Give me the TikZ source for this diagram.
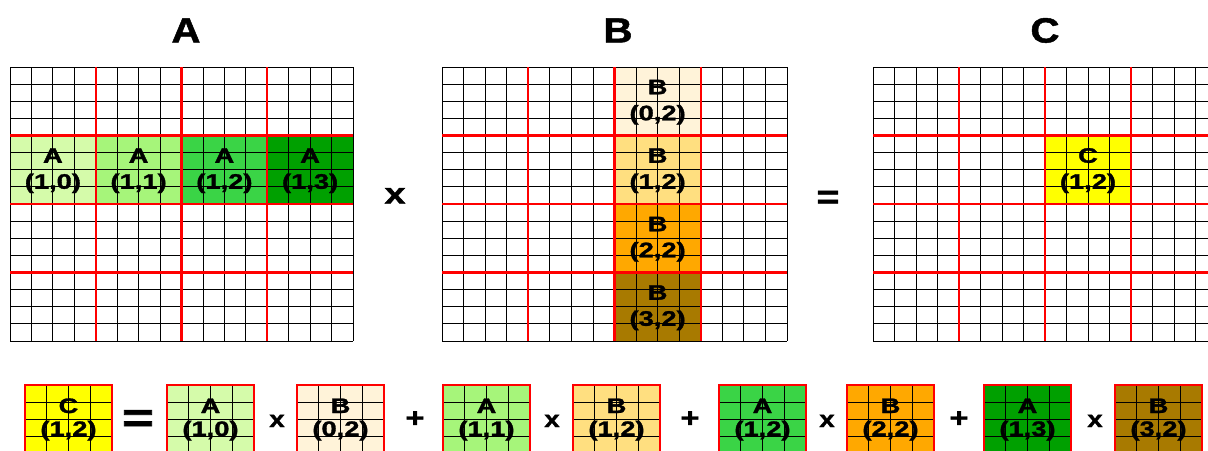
\documentclass[tikz,border=0pt]{standalone}
\usepackage{fontspec}
\usepackage{graphicx}
\setmainfont{Liberation Sans}
\newfontfamily\heavyfont[BoldFeatures={FakeBold=1.3}]{Liberation Sans}
\definecolor{aten}{HTML}{D5FBAA}
\definecolor{aeleven}{HTML}{A6F57A}
\definecolor{atwelve}{HTML}{3AD446}
\definecolor{athirteen}{HTML}{00A000}
\definecolor{bzero}{HTML}{FFF3D9}
\definecolor{bone}{HTML}{FFDF80}
\definecolor{btwo}{HTML}{FFA800}
\definecolor{bthree}{HTML}{A87A00}
\definecolor{cyel}{HTML}{FFFF00}
\newcommand\wtxt[3]{\scalebox{#2}[1]{\heavyfont\bfseries\fontsize{#1}{#1}\selectfont #3}}
\newcommand\bigmatrix[4]{%
  \foreach \k in {0,...,16}{%
    \draw[gridline] ({#1+\k*#3/16},#2) -- ({#1+\k*#3/16},{#2+#4});
    \draw[gridline] (#1,{#2+\k*#4/16}) -- ({#1+#3},{#2+\k*#4/16});
  }%
  \foreach \k in {4,8,12}{%
    \draw[redline] ({#1+\k*#3/16},#2) -- ({#1+\k*#3/16},{#2+#4});
    \draw[redline] (#1,{#2+\k*#4/16}) -- ({#1+#3},{#2+\k*#4/16});
  }%
}
\newcommand\smallbox[3]{%
  \fill[#3] (#1,#2) rectangle ++(87,69);
  \foreach \k in {1,2,3}{%
    \draw[gridline] ({#1+\k*87/4},#2) -- ++(0,69);
    \draw[gridline] (#1,{#2+\k*69/4}) -- ++(87,0);
  }%
  \draw[redline,line width=2.6pt] (#1,#2) rectangle ++(87,69);
}
\begin{document}
\begin{tikzpicture}[x=1pt,y=-1pt,
  gridline/.style={black,line width=0.8pt},
  redline/.style={red,line width=2.2pt},
  lbl/.style={anchor=base,inner sep=0pt},
]
\useasboundingbox (0,0) rectangle (1208,450);
\clip (0,0) rectangle (1208,450);
\fill[white] (0,0) rectangle (1208,450);

% titles
\node[lbl] (tA) at (186,42.5) {\wtxt{35}{1.15}{A}};
\node[lbl] (tB) at (618,42.5) {\wtxt{35}{1.15}{B}};
\node[lbl] (tC) at (1045,42.5) {\wtxt{35}{1.15}{C}};

% matrix A
\fill[aten] (10,135.5) rectangle (95.75,204);
\fill[aeleven] (95.75,135.5) rectangle (181.5,204);
\fill[atwelve] (181.5,135.5) rectangle (267.25,204);
\fill[athirteen] (267.25,135.5) rectangle (353,204);
\bigmatrix{10}{67}{343}{274}
\foreach \cx/\t in {52.9/0,138.6/1,224.4/2,310.1/3}{
  \node[lbl] (ma\t u) at (\cx,162.75) {\wtxt{21}{1.3}{A}};
  \node[lbl] (ma\t l) at (\cx,188.75) {\wtxt{21}{1.3}{(1,\t)}};
}

% matrix B
\fill[bzero] (614.5,67) rectangle (700.75,135.5);
\fill[bone] (614.5,135.5) rectangle (700.75,204);
\fill[btwo] (614.5,204) rectangle (700.75,272.5);
\fill[bthree] (614.5,272.5) rectangle (700.75,341);
\bigmatrix{442}{67}{345}{274}
\foreach \cy/\t in {101.25/0,169.75/1,238.25/2,306.75/3}{
  \node[lbl] (mb\t u) at (657.6,\cy-7) {\wtxt{21}{1.3}{B}};
  \node[lbl] (mb\t l) at (657.6,\cy+19) {\wtxt{21}{1.3}{(\t,2)}};
}

% matrix C
\fill[cyel] (1045,135.5) rectangle (1131,204);
\bigmatrix{873}{67}{344}{274}
\node[lbl] (mcu) at (1088,162.75) {\wtxt{21}{1.3}{C}};
\node[lbl] (mcl) at (1088,188.75) {\wtxt{21}{1.3}{(1,2)}};

% operators between matrices
\node[lbl] (opx) at (395,203.5) {\wtxt{29}{1.3}{x}};
\node[lbl] (opeq) at (828,208) {\wtxt{33}{1.2}{=}};

% bottom equation
\smallbox{25}{385}{cyel}
\smallbox{167}{385}{aten}
\smallbox{297}{385}{bzero}
\smallbox{443}{385}{aeleven}
\smallbox{573}{385}{bone}
\smallbox{719}{385}{atwelve}
\smallbox{847}{385}{btwo}
\smallbox{984}{385}{athirteen}
\smallbox{1115}{385}{bthree}
\foreach \bx/\n/\s in {25/sc/C,167/sa0/A,297/sb0/B,443/sa1/A,573/sb1/B,719/sa2/A,847/sb2/B,984/sa3/A,1115/sb3/B}{
  \node[lbl] (\n u) at (\bx+43.5,413) {\wtxt{21}{1.3}{\s}};
}
\node[lbl] (scl) at (68.5,436) {\wtxt{21}{1.3}{(1,2)}};
\node[lbl] (sa0l) at (210.5,436) {\wtxt{21}{1.3}{(1,0)}};
\node[lbl] (sb0l) at (340.5,436) {\wtxt{21}{1.3}{(0,2)}};
\node[lbl] (sa1l) at (486.5,436) {\wtxt{21}{1.3}{(1,1)}};
\node[lbl] (sb1l) at (616.5,436) {\wtxt{21}{1.3}{(1,2)}};
\node[lbl] (sa2l) at (762.5,436) {\wtxt{21}{1.3}{(1,2)}};
\node[lbl] (sb2l) at (890.5,436) {\wtxt{21}{1.3}{(2,2)}};
\node[lbl] (sa3l) at (1027.5,436) {\wtxt{21}{1.3}{(1,3)}};
\node[lbl] (sb3l) at (1158.5,436) {\wtxt{21}{1.3}{(3,2)}};

\node[lbl] (beq) at (138,432) {\wtxt{42}{1.3}{=}};
\foreach \ox/\n in {277/x1,552/x2,827/x3,1095/x4}{
  \node[lbl] (\n) at (\ox,427) {\wtxt{23}{1.2}{x}};
}
\foreach \ox/\n in {415/p1,690/p2,959/p3}{
  \node[lbl] (\n) at (\ox,427) {\wtxt{27}{1.2}{+}};
}
\end{tikzpicture}
\end{document}
